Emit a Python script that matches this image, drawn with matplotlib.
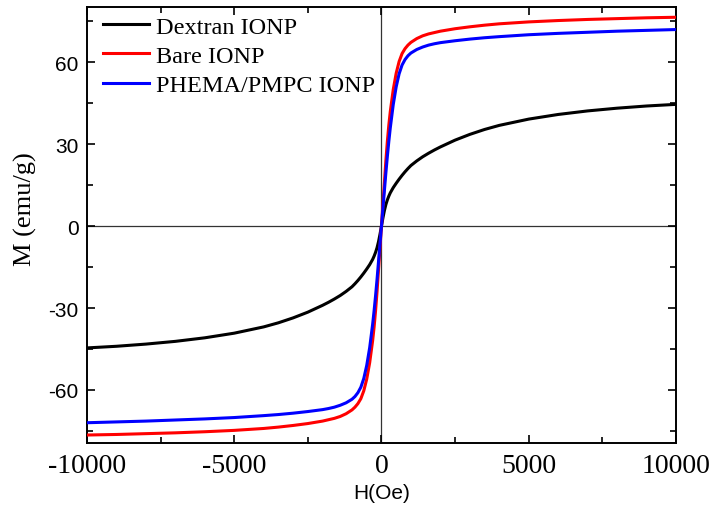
import numpy as np
import matplotlib
matplotlib.use('Agg')
from matplotlib import pyplot as plt
from matplotlib.ticker import MultipleLocator

plt.rcParams['axes.unicode_minus'] = False

# Field values (Oe) for the positive branch; the loops are symmetric
H_pos = [0, 50, 100, 150, 200, 250, 300, 400, 500, 600, 700, 800, 900, 1000,
         1200, 1400, 1600, 1800, 2000, 2500, 3000, 3500, 4000, 5000, 6000,
         7000, 8000, 9000, 10000]

# Magnetisation (emu/g)
M_dextran = [0, 3.0, 5.7, 7.9, 9.6, 11.0, 12.2, 14.1, 15.7, 17.2, 18.6, 19.9, 21.1, 22.2,
             23.9, 25.4, 26.7, 27.9, 29.0, 31.5, 33.6, 35.4, 36.9, 39.2, 40.9,
             42.2, 43.2, 44.0, 44.6]
M_bare = [0, 8.0, 16.0, 24.0, 31.0, 37.0, 42.0, 50.0, 56.0, 60.3, 63.2, 65.0, 66.3, 67.3,
          68.7, 69.7, 70.4, 70.9, 71.4, 72.3, 73.0, 73.6, 74.1, 74.8, 75.3,
          75.7, 76.0, 76.3, 76.5]
M_phema = [0, 6.5, 13.0, 19.5, 25.5, 31.0, 36.0, 44.5, 51.0, 55.8, 59.0, 61.0, 62.4, 63.4,
           64.7, 65.6, 66.3, 66.8, 67.2, 67.9, 68.5, 69.0, 69.4, 70.1, 70.6,
           71.0, 71.4, 71.7, 72.0]

labels = ['Dextran IONP', 'Bare IONP', 'PHEMA/PMPC IONP']
colors = ['black', 'red', 'blue']


def full_loop(h, m):
    h = np.asarray(h, dtype=float)
    m = np.asarray(m, dtype=float)
    return (np.concatenate([-h[::-1], h[1:]]),
            np.concatenate([-m[::-1], m[1:]]))


fig = plt.figure(figsize=(7.13, 5.10), dpi=100)
ax = fig.add_axes([0.122, 0.129, 0.826, 0.855])

for m, lab, col in zip([M_dextran, M_bare, M_phema], labels, colors):
    h, mm = full_loop(H_pos, m)
    ax.plot(h, mm, color=col, lw=2.2, label=lab, zorder=3)

ax.axhline(0, color='#333333', lw=0.9, zorder=1)
ax.axvline(0, color='#333333', lw=0.9, zorder=1)

ax.set_xlim(-10000, 10000)
ax.set_ylim(-79.5, 80.2)

ax.xaxis.set_major_locator(MultipleLocator(5000))
ax.xaxis.set_minor_locator(MultipleLocator(2500))
ax.yaxis.set_major_locator(MultipleLocator(30))
ax.yaxis.set_minor_locator(MultipleLocator(15))
ax.tick_params(which='both', direction='in', top=True, right=True, width=1.2)
ax.tick_params(which='major', length=6)
ax.tick_params(which='minor', length=4)
for s in ax.spines.values():
    s.set_linewidth(1.4)

for t in ax.get_xticklabels():
    t.set_fontfamily('Liberation Serif')
    t.set_fontsize(20)
for t in ax.get_yticklabels():
    t.set_fontfamily('Liberation Sans')
    t.set_fontsize(15)
ax.tick_params(axis='x', pad=7)
ax.tick_params(axis='y', pad=6)

ax.set_xlabel('H(Oe)', fontfamily='Liberation Sans', fontsize=15, labelpad=4)
ax.set_ylabel('M (emu/g)', fontfamily='Liberation Serif', fontsize=19)
ax.yaxis.set_label_coords(-0.085, 0.54)

ax.legend(loc='upper left', bbox_to_anchor=(0.012, 1.0), frameon=False,
          prop={'family': 'Liberation Serif', 'size': 17.5},
          handlelength=1.9, handletextpad=0.3, labelspacing=0.3,
          borderaxespad=0.1, borderpad=0.25)

fig.savefig('out.png', dpi=100)
